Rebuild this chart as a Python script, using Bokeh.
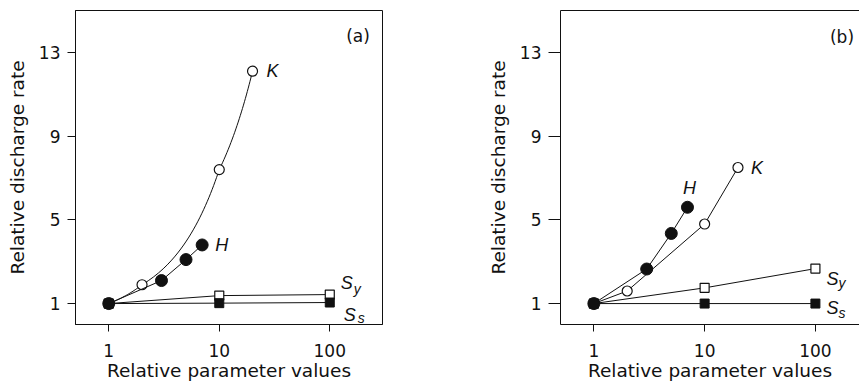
import numpy as np
from bokeh.plotting import figure
from bokeh.layouts import row
from bokeh.models import Range1d, FixedTicker, LinearAxis, NumeralTickFormatter
from bokeh.embed import file_html
from bokeh.resources import INLINE
from bokeh.core.properties import value

# Relative parameter values (multiples of the base value)
param_K = [1, 2, 10, 20]
param_H = [1, 3, 5, 7]
param_S = [1, 10, 100]

# Panel (a): relative discharge rate
rate_a_K = [1.0, 1.9, 7.4, 12.1]
rate_a_H = [1.0, 2.1, 3.1, 3.8]
rate_a_Sy = [1.0, 1.38, 1.43]
rate_a_Ss = [1.0, 1.02, 1.05]

# Panel (b): relative discharge rate
rate_b_K = [1.0, 1.6, 4.8, 7.5]
rate_b_H = [1.0, 2.65, 4.35, 5.6]
rate_b_Sy = [1.0, 1.75, 2.67]
rate_b_Ss = [1.0, 1.0, 1.0]

x_ticks = [1, 10, 100]
y_ticks = [1, 5, 9, 13]

INK = "#111111"
AXIS_FONT = "DejaVu Sans"
LABEL_FONT = value("Liberation Sans")


def linear_param_path(xs, ys, steps=30):
    """Connector that is straight in linear parameter space (curved on a log axis)."""
    px, py = [xs[0]], [ys[0]]
    for x0, y0, x1, y1 in zip(xs[:-1], ys[:-1], xs[1:], ys[1:]):
        t = np.linspace(0.0, 1.0, steps)[1:]
        px.extend(x0 + (x1 - x0) * t)
        py.extend(y0 + (y1 - y0) * t)
    return px, py


def make_panel(width, x_end, border_left, border_right, tick_len, boxed):
    p = figure(width=width, height=390, x_axis_type="log",
               x_range=Range1d(0.5, x_end), y_range=Range1d(0, 15),
               output_backend="svg", toolbar_location=None,
               min_border_left=border_left, min_border_right=border_right,
               min_border_top=10, min_border_bottom=66)
    p.xgrid.visible = False
    p.ygrid.visible = False
    p.background_fill_color = "white"
    p.border_fill_color = "white"

    xax = p.below[0]
    yax = p.left[0]
    xax.ticker = FixedTicker(ticks=x_ticks, minor_ticks=[])
    xax.formatter = NumeralTickFormatter(format="0")
    yax.ticker = FixedTicker(ticks=y_ticks, minor_ticks=[])

    for ax in (xax, yax):
        ax.axis_line_color = INK
        ax.axis_line_width = 1
        ax.major_tick_line_color = INK
        ax.major_tick_in = 0
        ax.minor_tick_out = 0
        ax.minor_tick_in = 0
        ax.major_label_text_font = AXIS_FONT
        ax.major_label_text_font_size = "17px"
        ax.major_label_text_color = INK
        ax.axis_label_text_font = AXIS_FONT
        ax.axis_label_text_font_size = "18.5px"
        ax.axis_label_text_font_style = "normal"
        ax.axis_label_text_color = INK

    xax.major_tick_out = 7
    xax.major_label_standoff = 12
    xax.axis_label_standoff = 0
    xax.axis_label = "Relative parameter values"

    yax.major_tick_out = tick_len
    yax.major_label_standoff = 7
    yax.axis_label_standoff = 8
    yax.axis_label = "Relative discharge rate"

    if boxed:
        p.outline_line_color = INK
        p.outline_line_width = 1
        p.outline_line_alpha = 1
    else:
        # open frame on the right: only a bare line along the top edge
        p.outline_line_color = None
        top = LinearAxis(ticker=FixedTicker(ticks=[], minor_ticks=[]),
                         major_tick_out=0, major_tick_in=0,
                         minor_tick_out=0, minor_tick_in=0,
                         major_label_standoff=0, axis_label=None,
                         axis_line_color=INK, axis_line_width=1)
        p.add_layout(top, "above")
    return p


def draw_series(p, rate_K, rate_H, rate_Sy, rate_Ss, curved_K):
    # K: open circles
    if curved_K:
        kx, ky = linear_param_path(param_K, rate_K)
    else:
        kx, ky = param_K, rate_K
    p.line(kx, ky, line_color=INK, line_width=1)
    p.scatter(param_K, rate_K, marker="circle", size=10, fill_color="white",
              line_color=INK, line_width=1.2)
    # Sy: open squares
    p.line(param_S, rate_Sy, line_color=INK, line_width=1)
    p.scatter(param_S, rate_Sy, marker="square", size=9, fill_color="white",
              line_color=INK, line_width=1.2)
    # Ss: filled squares
    p.line(param_S, rate_Ss, line_color=INK, line_width=1)
    p.scatter(param_S, rate_Ss, marker="square", size=9, fill_color=INK,
              line_color=INK, line_width=1)
    # H: filled circles
    p.line(param_H, rate_H, line_color=INK, line_width=1)
    p.scatter(param_H, rate_H, marker="circle", size=12, fill_color=INK,
              line_color=INK, line_width=1)


def series_label(p, x, y, text, dx, dy, size="18px", align="left",
                 baseline="alphabetic"):
    p.text([x], [y], text=[text], x_offset=dx, y_offset=dy,
           text_font=LABEL_FONT, text_font_style="italic",
           text_font_size=size, text_color=INK,
           text_align=align, text_baseline=baseline)


def panel_tag(p, text, dx, dy):
    p.text([p.x_range.end], [p.y_range.end], text=[text], x_offset=dx,
           y_offset=dy, text_font=value(AXIS_FONT), text_font_size="17px",
           text_color=INK, text_align="center", text_baseline="middle")


# Panel (a)
pa = make_panel(430, 300, 75, 48, 8, boxed=True)
draw_series(pa, rate_a_K, rate_a_H, rate_a_Sy, rate_a_Ss, curved_K=True)
series_label(pa, param_K[-1], rate_a_K[-1], "K", 14, 0, baseline="middle")
series_label(pa, param_H[-1], rate_a_H[-1], "H", 13, 0, baseline="middle")
series_label(pa, param_S[-1], rate_a_Sy[-1], "S", 11, -12)
series_label(pa, param_S[-1], rate_a_Sy[-1], "y", 24, -6, size="14px")
series_label(pa, param_S[-1], rate_a_Ss[-1], "S", 14, 12)
series_label(pa, param_S[-1], rate_a_Ss[-1], "s", 28, 15, size="14px")
panel_tag(pa, "(a)", -24.5, 25.5)

# Panel (b)
pb = make_panel(429, 250, 130, 0, 12, boxed=False)
draw_series(pb, rate_b_K, rate_b_H, rate_b_Sy, rate_b_Ss, curved_K=False)
series_label(pb, param_K[-1], rate_b_K[-1], "K", 13, 0, baseline="middle")
series_label(pb, param_H[-1], rate_b_H[-1], "H", 2, -19, align="center")
series_label(pb, param_S[-1], rate_b_Sy[-1], "S", 11, 10)
series_label(pb, param_S[-1], rate_b_Sy[-1], "y", 23, 14, size="14px")
series_label(pb, param_S[-1], rate_b_Ss[-1], "S", 11, 4)
series_label(pb, param_S[-1], rate_b_Ss[-1], "s", 23, 9, size="14px")
panel_tag(pb, "(b)", -17.5, 26)

layout = row(pa, pb)
open("out.html", "w").write(file_html(layout, INLINE))
